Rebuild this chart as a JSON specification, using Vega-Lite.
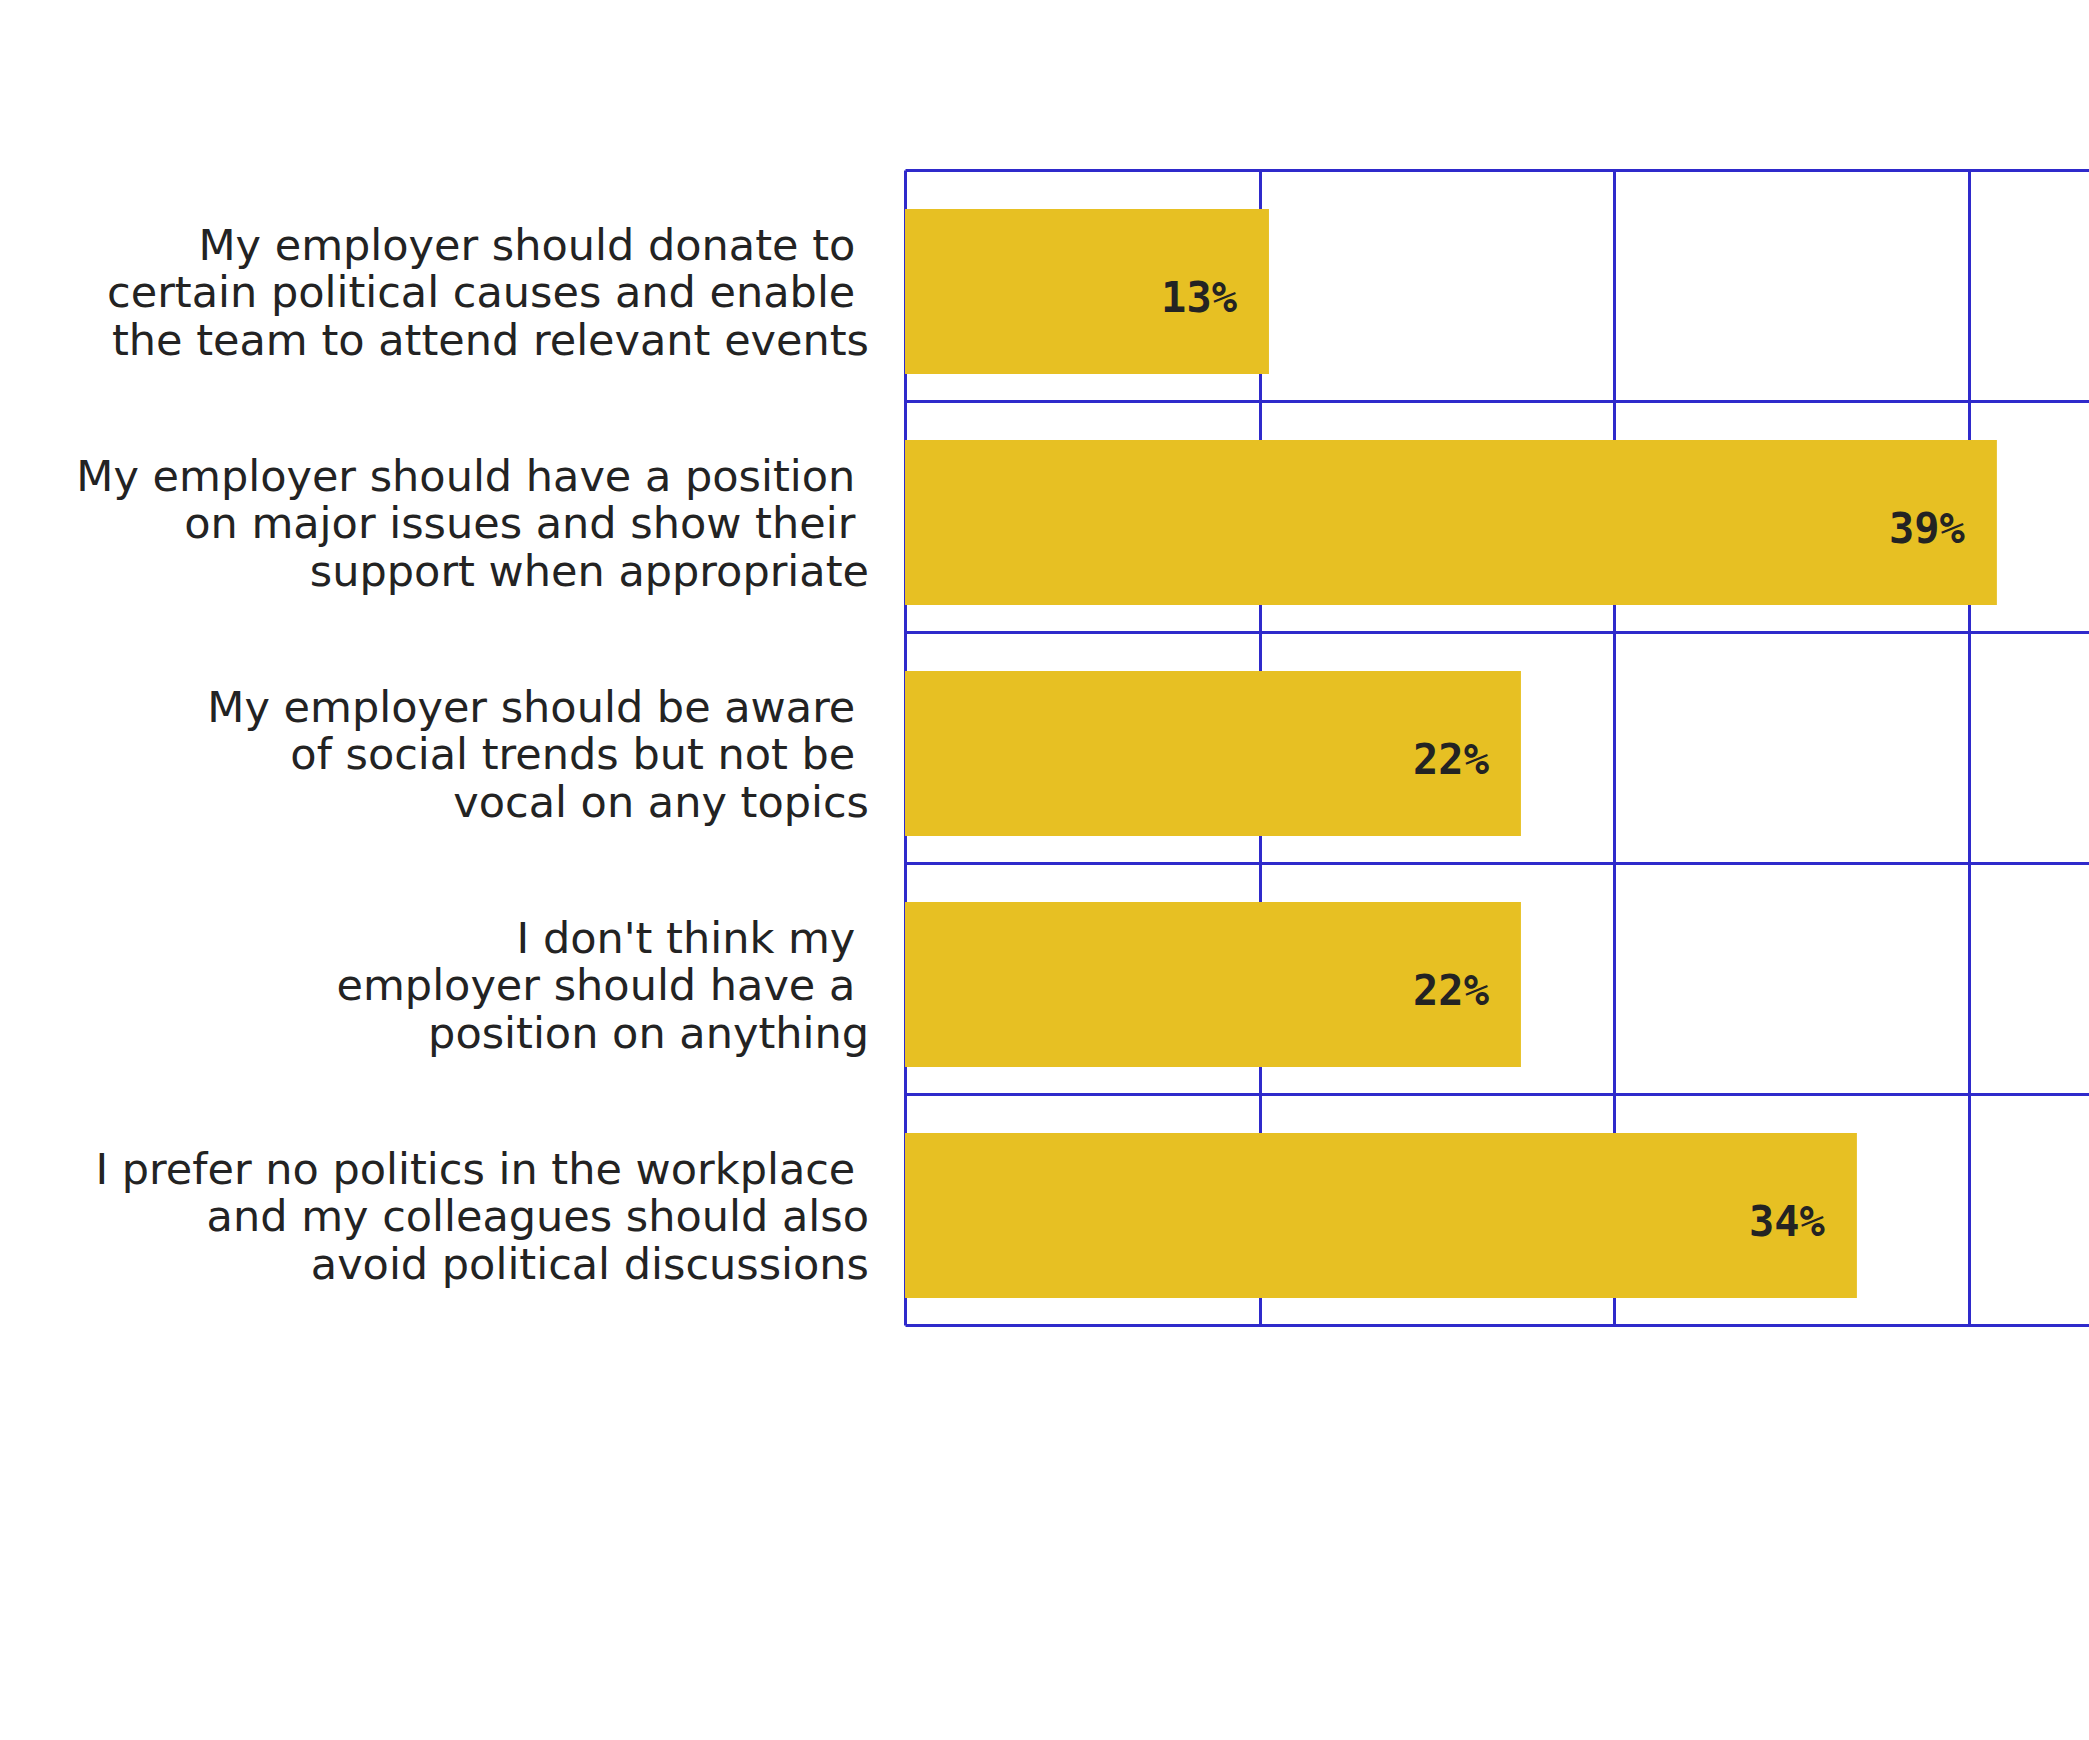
{
  "$schema": "https://vega.github.io/schema/vega-lite/v6.json",
  "autosize": "none",
  "width": 1184,
  "height": 1155,
  "padding": {"left": 905, "top": 170, "right": 0, "bottom": 415},
  "background": "white",
  "config": {"view": {"stroke": null}},
  "data": {
    "values": [
      {"statement": "My employer should donate to \u200b\ncertain political causes and enable \u200b\nthe team to attend relevant events", "value": 13},
      {"statement": "My employer should have a position \u200b\non major issues and show their \u200b\nsupport when appropriate", "value": 39},
      {"statement": "My employer should be aware \u200b\nof social trends but not be \u200b\nvocal on any topics", "value": 22},
      {"statement": "I don't think my \u200b\nemployer should have a \u200b\nposition on anything", "value": 22},
      {"statement": "I prefer no politics in the workplace \u200b\nand my colleagues should also\navoid political discussions", "value": 34}
    ]
  },
  "encoding": {
    "y": {
      "field": "statement",
      "type": "nominal",
      "sort": null,
      "scale": {"paddingInner": 0, "paddingOuter": 0},
      "axis": {
        "title": null,
        "ticks": false,
        "domain": false,
        "labels": false,
        "grid": true,
        "tickBand": "extent",
        "gridColor": "#2f2acb",
        "gridWidth": 3,
        "gridOpacity": 1
      }
    },
    "x": {
      "field": "value",
      "type": "quantitative",
      "scale": {"domain": [0, 42.29], "nice": false, "zero": true},
      "axis": {
        "title": null,
        "orient": "top",
        "values": [0, 12.67, 25.34, 38],
        "labels": false,
        "ticks": false,
        "domain": false,
        "grid": true,
        "gridColor": "#2f2acb",
        "gridWidth": 3,
        "gridOpacity": 1
      }
    }
  },
  "layer": [
    {
      "mark": {"type": "bar", "color": "#e7c023", "height": {"band": 0.715}, "yOffset": 6}
    },
    {
      "mark": {
        "type": "text",
        "align": "right",
        "baseline": "middle",
        "dx": -32,
        "dy": 13,
        "font": "DejaVu Sans Mono",
        "fontWeight": "bold",
        "fontSize": 42,
        "color": "#232323",
        "text": {"expr": "datum.value + '%'"}
      }
    },
    {
      "mark": {
        "type": "text",
        "align": "right",
        "baseline": "middle",
        "lineBreak": "\n",
        "lineHeight": 47.5,
        "dx": -36,
        "dy": -39,
        "font": "DejaVu Sans",
        "fontSize": 43,
        "color": "#232323"
      },
      "encoding": {
        "x": {"datum": 0},
        "text": {"field": "statement", "type": "nominal"}
      }
    }
  ]
}
